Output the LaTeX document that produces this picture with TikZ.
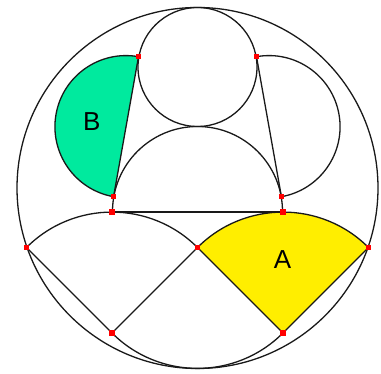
\documentclass[tikz,border=0pt]{standalone}
\usepackage{fontspec}
\setmainfont{Liberation Sans}
\definecolor{bgreen}{RGB}{0,234,158}
\definecolor{ayellow}{RGB}{255,238,0}
\tikzset{
  geo/.style={draw=black!90, line width=1.3pt},
  redpt/.style={fill=red, draw=none, minimum size=5.5pt, inner sep=0pt, rectangle},
  lbl/.style={font=\fontsize{26}{26}\selectfont, text=black, inner sep=0pt}
}
\begin{document}
\begin{tikzpicture}[x=1pt,y=1pt]
\useasboundingbox (0,0) rectangle (381,374);
% key points
\coordinate (O) at (197.5,186);
\coordinate (T) at (138.5,317.3);
\coordinate (Tr) at (256.5,317.3);
\coordinate (Bt) at (113.5,177.3);
\coordinate (Btr) at (281.5,177.3);
\coordinate (LT) at (112,161.9);
\coordinate (RT) at (283,161.9);
\coordinate (LO) at (26.5,126.5);
\coordinate (M) at (197.5,126.5);
\coordinate (RO) at (368.5,126.5);
\coordinate (L) at (112,41);
\coordinate (R) at (283,41);
\coordinate (AL) at (112.5,162.5);
% fills
\fill[bgreen] (T) arc[start angle=79.9, end angle=259.9, radius=71.1] -- cycle;
\fill[ayellow] (M) arc[start angle=135, end angle=45, radius=120.9] -- (R) -- cycle;
% big circle
\draw[geo] (O) circle[radius=180.5];
% top circle
\draw[geo] (197.5,307) circle[radius=59.5];
% middle arch
\draw[geo] (AL) arc[start angle=180, end angle=0, radius=85];
% segment B
\draw[geo] (T) arc[start angle=79.9, end angle=259.9, radius=71.1] -- cycle;
% right segment
\draw[geo] (Tr) arc[start angle=100.1, end angle=-79.9, radius=71.1] -- cycle;
% horizontal line
\draw[geo] (LT) -- (RT);
% left sector
\draw[geo] (LO) arc[start angle=135, end angle=45, radius=120.9] -- (L) -- cycle;
% sector A
\draw[geo] (M) arc[start angle=135, end angle=45, radius=120.9] -- (R) -- cycle;
% lower arc through sector centres
\draw[geo] (L) arc[start angle=225, end angle=315, radius=120.9];
% labels
\node[lbl] (labB) at (91.7,252.3) {B};
\node[lbl] (labA) at (282.5,114) {A};
% red points
\foreach \p in {T,Tr,Bt,Btr,LT,RT,LO,M,RO,L,R}
  \node[redpt] at (\p) {};
\end{tikzpicture}
\end{document}
